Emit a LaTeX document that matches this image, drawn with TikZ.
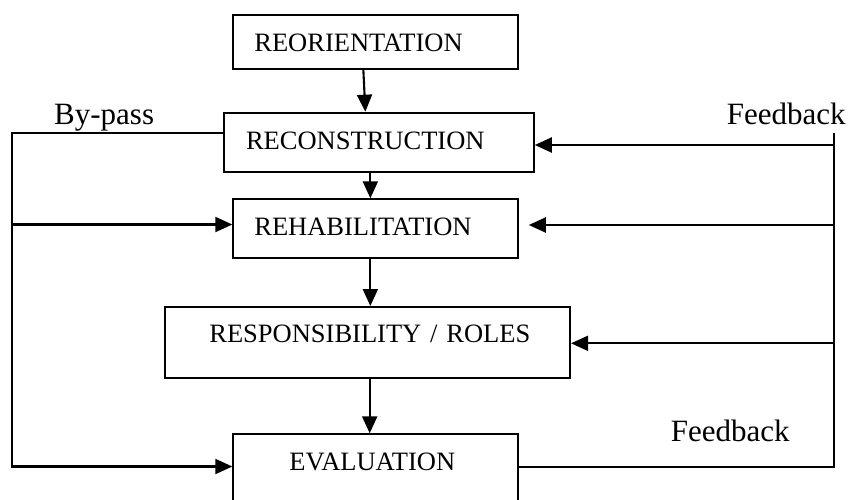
\documentclass[tikz,border=0pt]{standalone}
\usepackage{fontspec}
\setmainfont{Liberation Serif}
\usetikzlibrary{arrows.meta}
\newcommand{\boxfont}{\fontsize{26.5}{30}\selectfont}
\newcommand{\lblfont}{\fontsize{31}{34}\selectfont}
\tikzset{
  procbox/.style={draw, line width=2.1pt, inner ysep=0pt, align=left, anchor=north west, font=\boxfont},
  lbl/.style={inner sep=0pt, anchor=base west, font=\lblfont},
  conn/.style={line width=2.1pt},
  arr/.style={conn, -{Triangle[length=17pt,width=15pt]}}
}
\begin{document}
\begin{tikzpicture}[x=1pt,y=-1pt]
\useasboundingbox (0,0) rectangle (849,499);
\clip (0,0) rectangle (849,499);
% boxes
\node[procbox, inner xsep=21pt, text width=242.4pt, text height=35.7pt, text depth=17.7pt] (reo) at (232.3,14.3) {\mbox{REORIENTATION}};
\node[procbox, inner xsep=21.7pt, text width=266pt, text height=36.6pt, text depth=22.4pt] (rec) at (223.3,111.7) {\mbox{RECONSTRUCTION}};
\node[procbox, inner xsep=21pt, text width=242.4pt, text height=35.7pt, text depth=23.3pt] (reh) at (232.3,198.3) {\mbox{REHABILITATION}};
\node[procbox, inner xsep=44pt, text width=316.7pt, text height=35.7pt, text depth=35.6pt] (res) at (164.3,306) {\mbox{RESPONSIBILITY / ROLES}};
\node[procbox, inner xsep=56pt, text width=172.4pt, text height=36pt, text depth=50pt] (eva) at (232.3,433.3) {\mbox{EVALUATION}};
% labels
\node[lbl] (bypass) at (54,124.3) {By-pass};
\node[lbl] (fbA) at (726.7,124.3) {Feedback};
\node[lbl] (fbB) at (670.7,441.7) {Feedback};
% main flow
\draw[arr] ([xshift=-12.2pt]reo.south) -- ([xshift=-13.7pt]rec.north);
\draw[arr] ([xshift=-8.7pt]rec.south) -- ([xshift=-8.7pt]rec.south |- reh.north);
\draw[arr] ([xshift=-5.2pt]reh.south) -- ([xshift=-5.2pt]reh.south |- res.north);
\draw[arr] ([xshift=2pt]res.south) -- ([xshift=2pt]res.south |- eva.north);
% by-pass
\coordinate (bpTop) at (12.3,132.7);
\coordinate (bpMid) at (12.3,224.5);
\coordinate (bpBot) at (12.3,466.5);
\draw[arr] (rec.west |- bpTop) -- (bpTop) -- (bpBot) -- (eva.west |- bpBot);
\draw[arr] (bpMid) -- (reh.west |- bpMid);
% feedback
\coordinate (fbTop) at (834.3,133.3);
\coordinate (fb1) at (834.3,145);
\coordinate (fb2) at (834.3,225);
\coordinate (fb3) at (834.3,343.3);
\coordinate (fbBot) at (834.3,467.3);
\coordinate (rehR) at ([xshift=10pt]reh.east);
\draw[conn] (eva.east |- fbBot) -- (fbBot) -- (fbTop);
\draw[arr] (fb1) -- (rec.east |- fb1);
\draw[arr] (fb2) -- (rehR |- fb2);
\draw[arr] (fb3) -- (res.east |- fb3);
\end{tikzpicture}
\end{document}
